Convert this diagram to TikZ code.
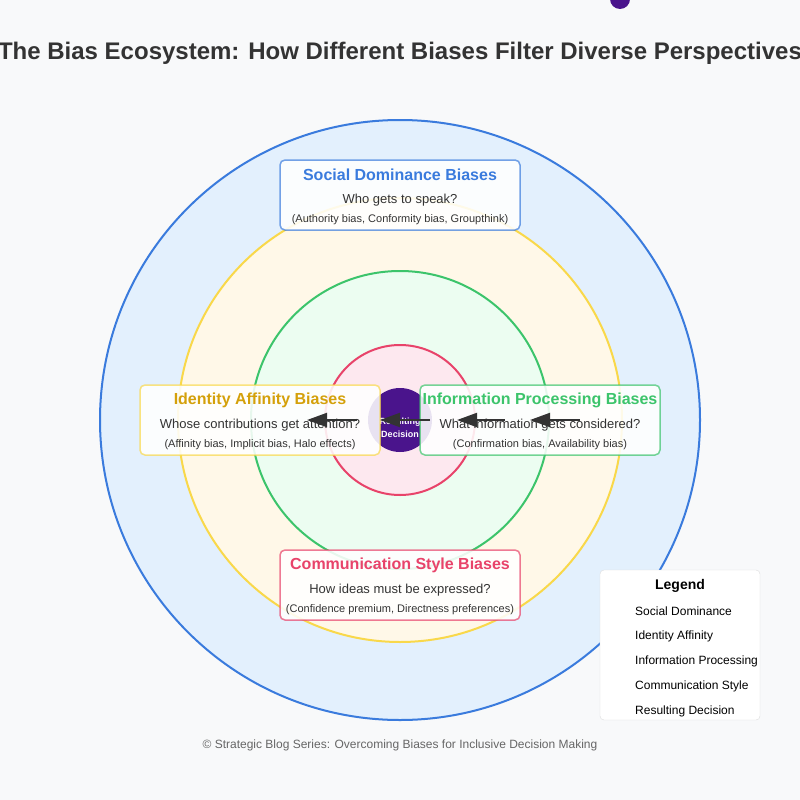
\documentclass[tikz,border=0pt]{standalone}
\usepackage{fontspec}
\setmainfont{Liberation Sans}
\usetikzlibrary{arrows.meta,positioning}

\definecolor{pagebg}{HTML}{F8F9FA}
\definecolor{textgrey}{HTML}{333333}
\definecolor{footgrey}{HTML}{666666}
\definecolor{socialblue}{HTML}{3A7BDD}
\definecolor{socialfill}{HTML}{E3F0FD}
\definecolor{identityline}{HTML}{F9D84A}
\definecolor{identityfill}{HTML}{FFF8E8}
\definecolor{identitytitle}{HTML}{D4A00A}
\definecolor{infogreen}{HTML}{3CC46B}
\definecolor{infofill}{HTML}{ECFDF1}
\definecolor{commred}{HTML}{E8436A}
\definecolor{commfill}{HTML}{FDE8EF}
\definecolor{decisionpurple}{HTML}{4A148C}
\definecolor{legendborder}{HTML}{DDDDDD}

\begin{document}
\begin{tikzpicture}[x=1pt,y=-1pt,node distance=25pt,
  >={Triangle[length=20pt,width=14pt]},
  ring/.style={circle,line width=2pt,inner sep=0pt},
  biasbox/.style={rectangle,rounded corners=5pt,minimum width=240pt,minimum height=70pt,
    fill=white,fill opacity=0.88,line width=1.5pt,draw opacity=0.7},
  boxtitle/.style={font=\fontsize{16}{19}\selectfont\bfseries},
  boxquestion/.style={text=textgrey,font=\fontsize{13}{16}\selectfont},
  boxexamples/.style={text=textgrey,font=\fontsize{11}{13}\selectfont},
  legendtext/.style={anchor=west,inner sep=0pt,text=black,font=\fontsize{12}{14}\selectfont},
  flow/.style={->,line width=2pt,draw=textgrey}]

  \useasboundingbox (0,0) rectangle (800,800);
  \clip (0,0) rectangle (800,800);
  \fill[pagebg] (0,0) rectangle (800,800);

  % title and the dot above it
  \node[circle,fill=decisionpurple,minimum size=20pt,inner sep=0pt] (dot) at (620,-1) {};
  \node[text=textgrey,font=\fontsize{24}{28}\selectfont\bfseries] (title) at (400,53)
    {The Bias Ecosystem: How Different Biases Filter Diverse Perspectives};

  % rings
  \coordinate (centre) at (400,420);
  \node[ring,draw=socialblue,fill=socialfill,minimum size=600pt] (socRing) at (centre) {};
  \node[ring,draw=identityline,fill=identityfill,minimum size=444pt] (idRing) at (centre) {};
  \node[ring,draw=infogreen,fill=infofill,minimum size=298pt] (infoRing) at (centre) {};
  \node[ring,draw=commred,fill=commfill,minimum size=150pt] (commRing) at (centre) {};
  \node[circle,fill=decisionpurple,minimum size=64pt,inner sep=0pt] (decision) at (centre) {};
  \node[align=center,text=white,font=\fontsize{9}{13}\selectfont\bfseries] (decisionT) at (400,428)
    {Resulting\\Decision};

  % boxes
  \node[biasbox,draw=socialblue] (soc) at (400,195) {};
  \node[boxtitle,text=socialblue] (socT) at (400,175) {Social Dominance Biases};
  \node[boxquestion] (socQ) [below of=socT] {Who gets to speak?};
  \node[boxexamples] (socE) at (400,220) {(Authority bias, Conformity bias, Groupthink)};

  \node[biasbox,draw=identityline] (id) at (260,420) {};
  \node[boxtitle,text=identitytitle] (idT) at (260,400) {Identity Affinity Biases};
  \node[boxquestion] (idQ) [below of=idT] {Whose contributions get attention?};
  \node[boxexamples] (idE) at (260,445) {(Affinity bias, Implicit bias, Halo effects)};

  \node[biasbox,draw=infogreen] (info) at (540,420) {};
  \node[boxtitle,text=infogreen] (infoT) at (540,400) {Information Processing Biases};
  \node[boxquestion] (infoQ) [below of=infoT] {What information gets considered?};
  \node[boxexamples] (infoE) at (540,445) {(Confirmation bias, Availability bias)};

  \node[biasbox,draw=commred] (comm) at (400,585) {};
  \node[boxtitle,text=commred] (commT) at (400,565) {Communication Style Biases};
  \node[boxquestion] (commQ) [below of=commT] {How ideas must be expressed?};
  \node[boxexamples] (commE) at (400,610) {(Confidence premium, Directness preferences)};

  % flow arrows
  \foreach \n/\s/\e in {1/580/530,2/505/457,3/430/380,4/357/307} {
    \coordinate (f\n s) at (\s,420);
    \coordinate (f\n e) at (\e,420);
    \draw[flow] (f\n s) -- (f\n e);
  }

  % legend
  \node[rectangle,rounded corners=4pt,draw=legendborder,fill=white,minimum width=160pt,
    minimum height=150pt] (legend) at (680,645) {};
  \node[font=\fontsize{14}{16}\selectfont\bfseries] (legendT) at (680,586) {Legend};
  \node[legendtext] (lg1) at (635,611) {Social Dominance};
  \node[legendtext] (lg2) at (635,636) {Identity Affinity};
  \node[legendtext] (lg3) at (635,661) {Information Processing};
  \node[legendtext] (lg4) at (635,686) {Communication Style};
  \node[legendtext] (lg5) at (635,711) {Resulting Decision};

  % footer
  \node[text=footgrey,font=\fontsize{12}{14}\selectfont] (footer) at (400,745)
    {© Strategic Blog Series: Overcoming Biases for Inclusive Decision Making};
\end{tikzpicture}
\end{document}
